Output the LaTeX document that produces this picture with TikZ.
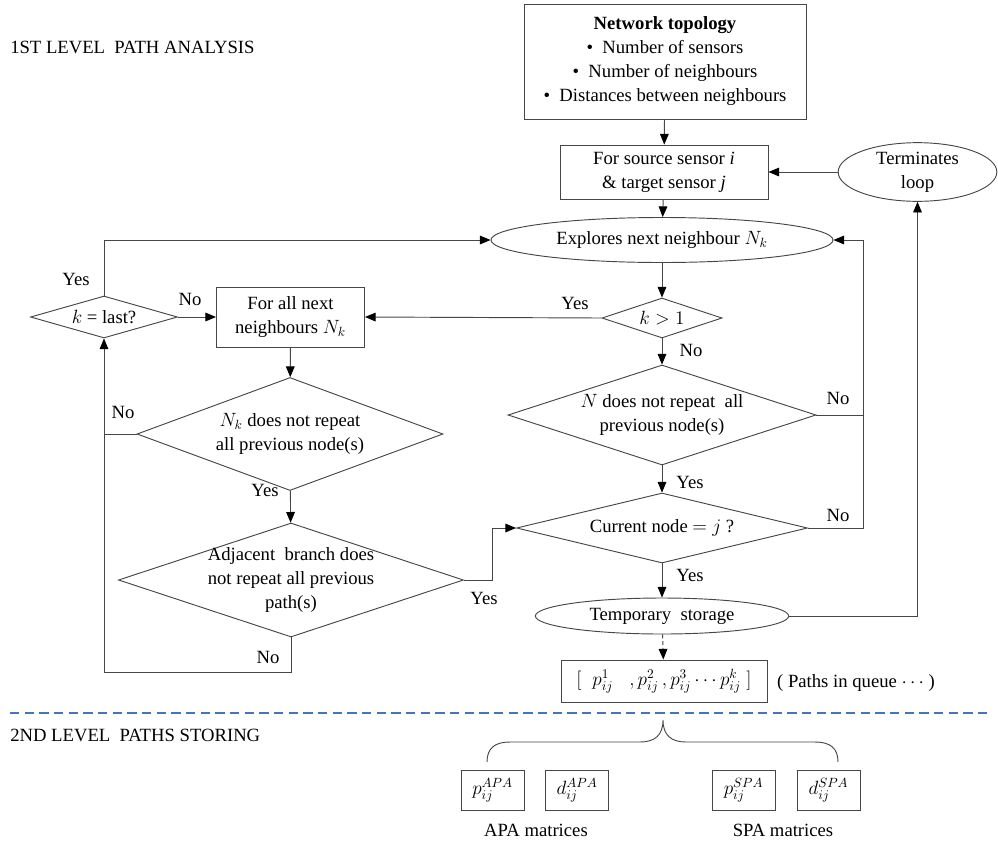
\documentclass[tikz,border=0pt]{standalone}
\usepackage{fontspec}
\setmainfont{Liberation Serif}
\usetikzlibrary{shapes.geometric,arrows.meta}
\definecolor{lnc}{RGB}{70,70,70}
\definecolor{wblue}{RGB}{68,114,196}
\begin{document}
\begin{tikzpicture}[x=0.75pt,y=-0.75pt,
  every node/.style={font=\fontsize{14}{18}\selectfont, inner sep=0pt, text=black},
  bx/.style={draw=lnc, line width=0.7pt, rectangle, align=center},
  ell/.style={draw=lnc, line width=0.7pt, ellipse, align=center},
  dia/.style={draw=lnc, line width=0.7pt, diamond},
  dtext/.style={align=center},
  arr/.style={draw=lnc, line width=0.7pt, -{Triangle[length=8pt,width=6.5pt,color=black]}},
  ln/.style={draw=lnc, line width=0.7pt},
  lab/.style={anchor=center}]
\useasboundingbox (0,0) rectangle (998,843);

% headings
\node[anchor=west] (h1) at (10,47) {1ST LEVEL\ \ PATH ANALYSIS};
\node[anchor=west] (h2) at (10,735) {2ND LEVEL\ \ PATHS STORING};

% main column
\node[bx, minimum width=211.5pt, minimum height=86.25pt] (net) at (665,61.5)
  {\textbf{Network topology}\\ \textbullet\ \ Number of sensors\\ \textbullet\ \ Number of neighbours\\ \textbullet\ \ Distances between neighbours};
\node[bx, minimum width=156pt, minimum height=40.5pt] (src) at (664,172)
  {For source sensor \textit{i}\\ \&\ target sensor \textit{j}};
\node[ell, minimum width=256.5pt, minimum height=33.75pt] (exp) at (662,240)
  {Explores next neighbour $N_k$};
\node[ell, minimum width=119pt, minimum height=44pt] (term) at (917.5,172)
  {Terminates\\loop};
\node[dia, minimum width=90pt, minimum height=30pt] (k1) at (662,318) {};
\node[dtext] (k1t) at (k1) {$k > 1$};
\node[dia, minimum width=231pt, minimum height=75pt] (dN) at (662,415) {};
\node[dtext] (dNt) at (dN) {$N$ does not repeat\ \ all\\previous node(s)};
\node[dia, minimum width=218.25pt, minimum height=52.5pt] (cur) at (662,528) {};
\node[dtext] (curt) at (cur) {Current node $=j$ ?};
\node[ell, minimum width=190pt, minimum height=27pt] (tmp) at (662,616)
  {Temporary\ \ storage};
\node[bx, minimum width=154.5pt, minimum height=31.5pt] (que) at (664,681)
  {$\Big[\;\; p_{ij}^{1}\;\;\;,p_{ij}^{2}\,,p_{ij}^{3}\cdots p_{ij}^{k}\;\Big]$};
\node (quel) at (856,683) {( Paths in queue $\cdots$ )};

% left column
\node[bx, minimum width=111pt, minimum height=45pt] (fan) at (290.5,317)
  {For all next\\neighbours $N_k$};
\node[dia, minimum width=110.25pt, minimum height=31.5pt] (kl) at (104,317) {};
\node[dtext] (klt) at (kl) {$k$ = last?};
\node[dia, minimum width=229.5pt, minimum height=84.75pt] (dNk) at (290,434) {};
\node[dtext] (dNkt) at (dNk) {$N_k$ does not repeat\\all previous node(s)};
\node[dia, minimum width=258.75pt, minimum height=85.5pt] (adj) at (291,580) {};
\node[dtext] (adjt) at (adj) {Adjacent\ \ branch does\\not repeat all previous\\path(s)};

% helper coordinates
\coordinate (rx) at (863,0);
\coordinate (ax) at (492,0);
\coordinate (lb) at (104,672);

% connectors
\draw[arr] (net) -- (src);
\draw[arr] (src) -- (exp);
\draw[arr] (exp) -- (k1);
\draw[arr] (k1) -- (dN);
\draw[arr] (dN) -- (cur);
\draw[arr] (cur) -- (tmp);
\draw[arr, dash pattern=on 3pt off 2pt] (tmp) -- (que);
\draw[arr] (term.west) -- (src.east);
\draw[arr] (tmp.east) -| (term.south);
\draw[ln] (dN.east) -- (dN.east -| rx);
\draw[arr] (cur.east) -- (cur.east -| rx) |- (exp.east);
\draw[arr] (k1.west) -- (fan.east);
\draw[arr] (kl.east) -- (fan.west);
\draw[arr] (kl.north) |- (exp.west);
\draw[arr] (fan) -- (dNk);
\draw[arr] (dNk) -- (adj);
\draw[ln] (dNk.west) -- (dNk.west -| lb);
\draw[arr] (adj.south) |- (lb) -- (kl.south);
\draw[arr] (adj.east) -- (adj.east -| ax) |- (cur.west);

% labels
\node[lab] (l1) at (575,303) {Yes};
\node[lab] (l2) at (691,350) {No};
\node[lab] (l3) at (838,398) {No};
\node[lab] (l4) at (690,482) {Yes};
\node[lab] (l5) at (838,515) {No};
\node[lab] (l6) at (690,575) {Yes};
\node[lab] (l7) at (76,279) {Yes};
\node[lab] (l8) at (190,299) {No};
\node[lab] (l9) at (123,412) {No};
\node[lab] (l10) at (265,490) {Yes};
\node[lab] (l11) at (484,598) {Yes};
\node[lab] (l12) at (268,657) {No};

% separator
\draw[wblue, line width=1.6pt, dash pattern=on 7pt off 4pt] (10,713) -- (990,713);

% brace
\draw[ln] (487,762) .. controls (487,748) and (495,742) .. (510,742) -- (640,742)
  .. controls (655,742) and (663,735) .. (663,720)
  .. controls (663,735) and (671,742) .. (686,742) -- (815,742)
  .. controls (830,742) and (838,748) .. (838,762);

% matrices
\node[bx, minimum width=47.25pt, minimum height=30pt] (pa) at (492.5,790) {$p_{ij}^{APA}$};
\node[bx, minimum width=47.25pt, minimum height=30pt] (da) at (577,790) {$d_{ij}^{APA}$};
\node[bx, minimum width=47.25pt, minimum height=30pt] (ps) at (743.5,790) {$p_{ij}^{SPA}$};
\node[bx, minimum width=47.25pt, minimum height=30pt] (ds) at (828.5,790) {$d_{ij}^{SPA}$};
\node (apal) at (536,830) {APA matrices};
\node (spal) at (783,830) {SPA matrices};
\end{tikzpicture}
\end{document}
